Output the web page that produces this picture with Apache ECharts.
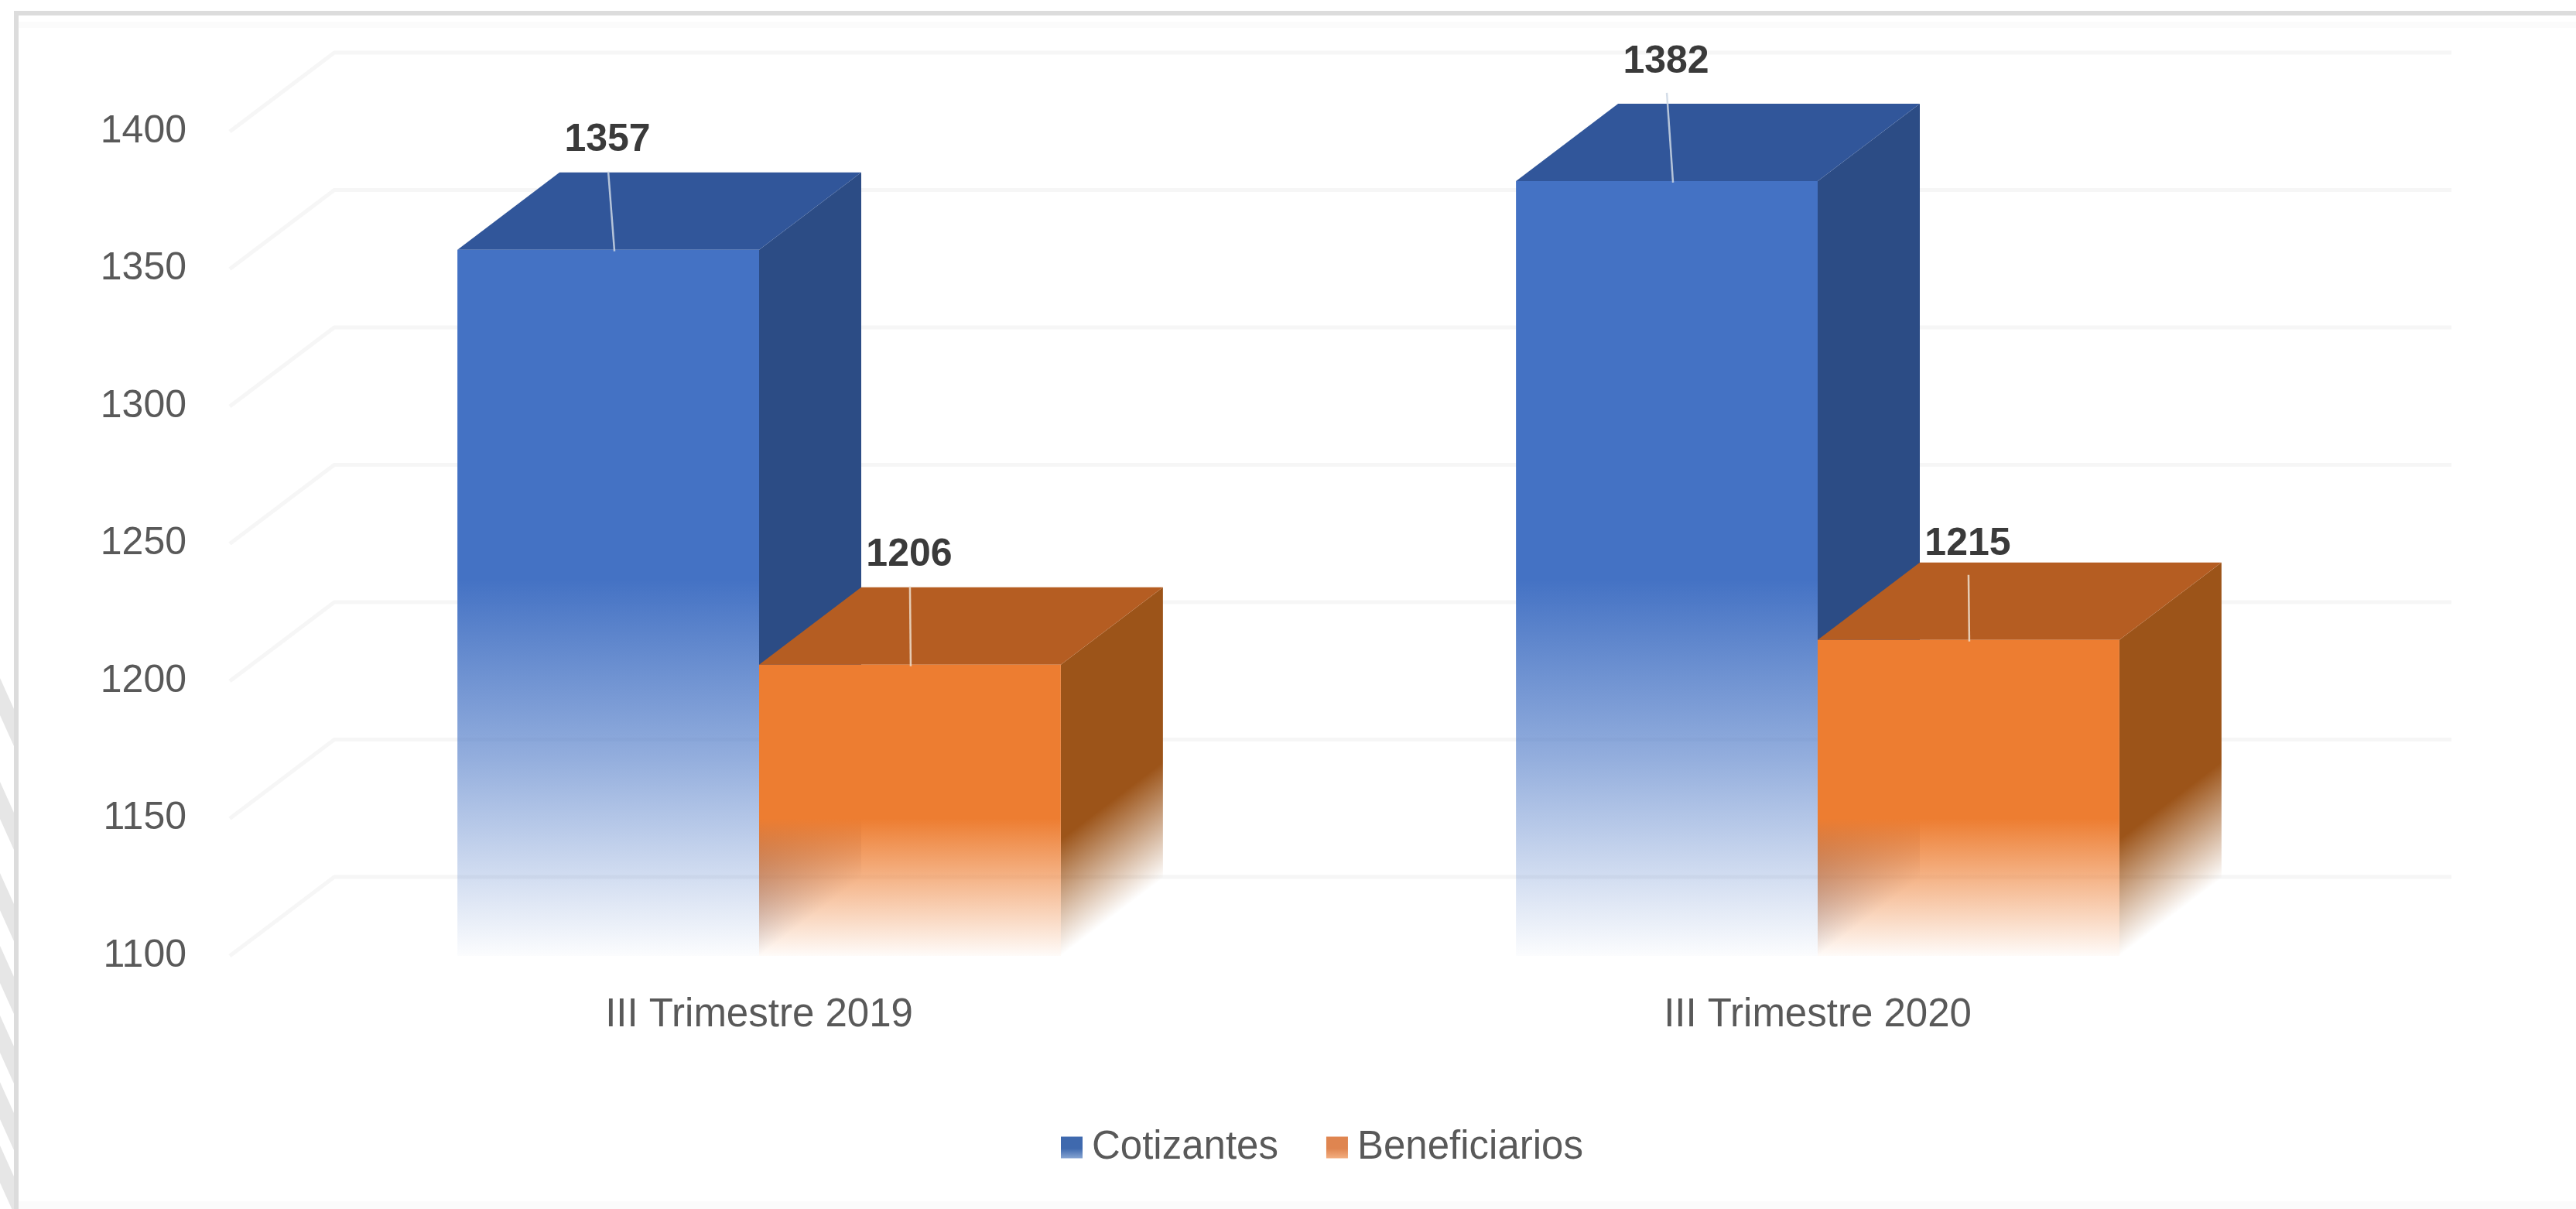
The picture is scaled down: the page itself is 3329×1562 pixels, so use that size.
<!DOCTYPE html>
<html>
<head>
<meta charset="utf-8">
<style>html,body{margin:0;padding:0;background:#fff}#c{width:3329px;height:1562px}</style>
<script src="https://cdn.jsdelivr.net/npm/echarts@6/dist/echarts.min.js"></script>
</head>
<body>
<div id="c"></div>
<script>
const categories = ['III Trimestre 2019', 'III Trimestre 2020'];
const cotizantes = [1357, 1382];
const beneficiarios = [1206, 1215];
const yTicks = [1100, 1150, 1200, 1250, 1300, 1350, 1400];

// layout of the oblique projection (pixels), separate from the data
const DEPTH_X = 132, DEPTH_Y = 100, WALL_X = 135, WALL_Y = 102;
const BAR_FRACTION = 0.285;
const FONT = '"Liberation Sans", sans-serif';
const labelLift = { Cotizantes: [141, 154], Beneficiarios: [141, 124] };

const looks = {
  Cotizantes: { rgb: '68,114,196', top: '#31569A', side: '#2C4C85', slot: -1, fadeFrom: 1237, sideFade: 170, lean: 8,
                leader: 'rgba(205,215,228,0.85)' },
  Beneficiarios: { rgb: '237,125,49', top: '#B55D22', side: '#9C5419', slot: 0, fadeFrom: 1150, sideFade: 120, lean: 1,
                leader: 'rgba(235,215,195,0.9)' }
};

function barItem(name) {
  const look = looks[name];
  return function (params, api) {
    const cat = api.value(0), val = api.value(1);
    const band = api.size([1, 0])[0];
    const w = band * BAR_FRACTION;
    const centre = api.coord([cat, val]);
    const base = api.coord([cat, 1100]);
    const xl = centre[0] + look.slot * w, xr = xl + w;
    const top = centre[1], bottom = base[1];
    const fadeY = api.coord([cat, look.fadeFrom])[1];
    const stops = name === 'Cotizantes'
      ? [{ offset: 0, color: 'rgba(' + look.rgb + ',1)' },
         { offset: 0.47, color: 'rgba(' + look.rgb + ',0.58)' },
         { offset: 1, color: 'rgba(' + look.rgb + ',0.02)' }]
      : [{ offset: 0, color: 'rgba(' + look.rgb + ',1)' },
         { offset: 1, color: 'rgba(' + look.rgb + ',0.03)' }];
    const frontFill = new echarts.graphic.LinearGradient(0, fadeY, 0, bottom, stops, true);

    // the side fades along the receding edge of its own foot
    const len = Math.hypot(DEPTH_X, DEPTH_Y);
    const nx = DEPTH_Y / len, ny = DEPTH_X / len, L = look.sideFade;
    const sideRgb = echarts.color.parse(look.side).slice(0, 3).join(',');
    const sideFill = new echarts.graphic.LinearGradient(
      xr - nx * L, bottom - ny * L, xr, bottom,
      [{ offset: 0, color: 'rgba(' + sideRgb + ',1)' }, { offset: 1, color: 'rgba(' + sideRgb + ',0)' }], true);

    const lift = labelLift[name][cat];
    const cx = (xl + xr) / 2;
    return {
      type: 'group',
      children: [
        { type: 'polygon', shape: { points: [[xr, top], [xr + DEPTH_X, top - DEPTH_Y], [xr + DEPTH_X, bottom - DEPTH_Y], [xr, bottom]] },
          style: { fill: sideFill } },
        { type: 'polygon', shape: { points: [[xl, top], [xl + DEPTH_X, top - DEPTH_Y], [xr + DEPTH_X, top - DEPTH_Y], [xr, top]] },
          style: { fill: look.top } },
        { type: 'rect', shape: { x: xl, y: top, width: w, height: bottom - top }, style: { fill: frontFill } },
        { type: 'line', shape: { x1: cx, y1: top - lift + 40, x2: cx + look.lean, y2: top + 2 },
          style: { stroke: look.leader, lineWidth: 2.5 } },
        { type: 'text', style: { text: String(val), x: cx - 1, y: top - lift, align: 'center', verticalAlign: 'middle',
            fill: '#3A3A3A', font: '600 50px ' + FONT } }
      ]
    };
  };
}

function wallItem(params, api) {
  const cs = params.coordSys;
  const y = api.coord([0, api.value(0)])[1];
  const x0 = cs.x, x1 = cs.x + WALL_X, x2 = cs.x + cs.width + WALL_X;
  return {
    type: 'polyline',
    shape: { points: [[x0, y], [x1, y - WALL_Y], [x2, y - WALL_Y]] },
    style: { fill: 'none', stroke: '#F6F6F6', lineWidth: 5 }
  };
}

function swatch(a, b) {
  return new echarts.graphic.LinearGradient(0, 0, 0, 1, [{ offset: 0, color: a }, { offset: 0.55, color: a }, { offset: 1, color: b }]);
}

const hatch = [876, 1010, 1128, 1222, 1312, 1398, 1480].map(function (y) {
  return { type: 'polygon', silent: true, shape: { points: [[0, y], [18, y + 40], [18, y + 88], [0, y + 48]] }, style: { fill: '#E6E6E6' } };
});

const chart = echarts.init(document.getElementById('c'), null, { width: 3329, height: 1562, renderer: 'canvas' });
chart.setOption({
  backgroundColor: '#FFFFFF',
  animation: false,
  graphic: { elements: hatch.concat([
    { type: 'rect', silent: true, shape: { x: 18, y: 14, width: 3311, height: 6 }, style: { fill: '#DCDCDC' } },
    { type: 'rect', silent: true, shape: { x: 18, y: 14, width: 6, height: 1548 }, style: { fill: '#DCDCDC' } },
    { type: 'rect', silent: true, shape: { x: 24, y: 28, width: 3305, height: 8 }, style: { fill: '#FBFBFB' } },
    { type: 'rect', silent: true, shape: { x: 24, y: 1552, width: 3305, height: 10 }, style: { fill: '#FBFBFB' } }
  ]) },
  grid: { left: 297, top: 170, width: 2736, height: 1065, containLabel: false },
  legend: {
    data: [
      { name: 'Cotizantes', itemStyle: { color: swatch('#3F69AE', '#86A4D2') } },
      { name: 'Beneficiarios', itemStyle: { color: swatch('#DF8550', '#F3AE80') } }
    ],
    left: 1371, top: 1457, padding: 0,
    itemWidth: 28, itemHeight: 28, itemGap: 62, icon: 'rect',
    textStyle: { color: '#595959', fontFamily: FONT, fontSize: 51, padding: [0, 0, 0, 7] }
  },
  xAxis: {
    type: 'category', data: categories,
    axisLine: { show: false }, axisTick: { show: false }, splitLine: { show: false },
    axisLabel: { color: '#595959', fontFamily: FONT, fontSize: 51, margin: 51 }
  },
  yAxis: {
    type: 'value', min: 1100, max: 1400, interval: 50,
    axisLine: { show: false }, axisTick: { show: false }, splitLine: { show: false },
    axisLabel: { color: '#595959', fontFamily: FONT, fontSize: 50, margin: 56, formatter: function (v) { return String(v); } }
  },
  series: [
    { type: 'custom', name: 'wall', coordinateSystem: 'cartesian2d', silent: true, data: yTicks.map(function (v) { return [v]; }),
      encode: { y: 0 }, renderItem: wallItem, z: 1 },
    { type: 'custom', name: 'Cotizantes', coordinateSystem: 'cartesian2d', itemStyle: { color: '#4472C4' },
      data: cotizantes.map(function (v, i) { return [i, v]; }), encode: { x: 0, y: 1 }, renderItem: barItem('Cotizantes'), z: 2 },
    { type: 'custom', name: 'Beneficiarios', coordinateSystem: 'cartesian2d', itemStyle: { color: '#ED7D31' },
      data: beneficiarios.map(function (v, i) { return [i, v]; }), encode: { x: 0, y: 1 }, renderItem: barItem('Beneficiarios'), z: 3 }
  ]
});
</script>
</body>
</html>
